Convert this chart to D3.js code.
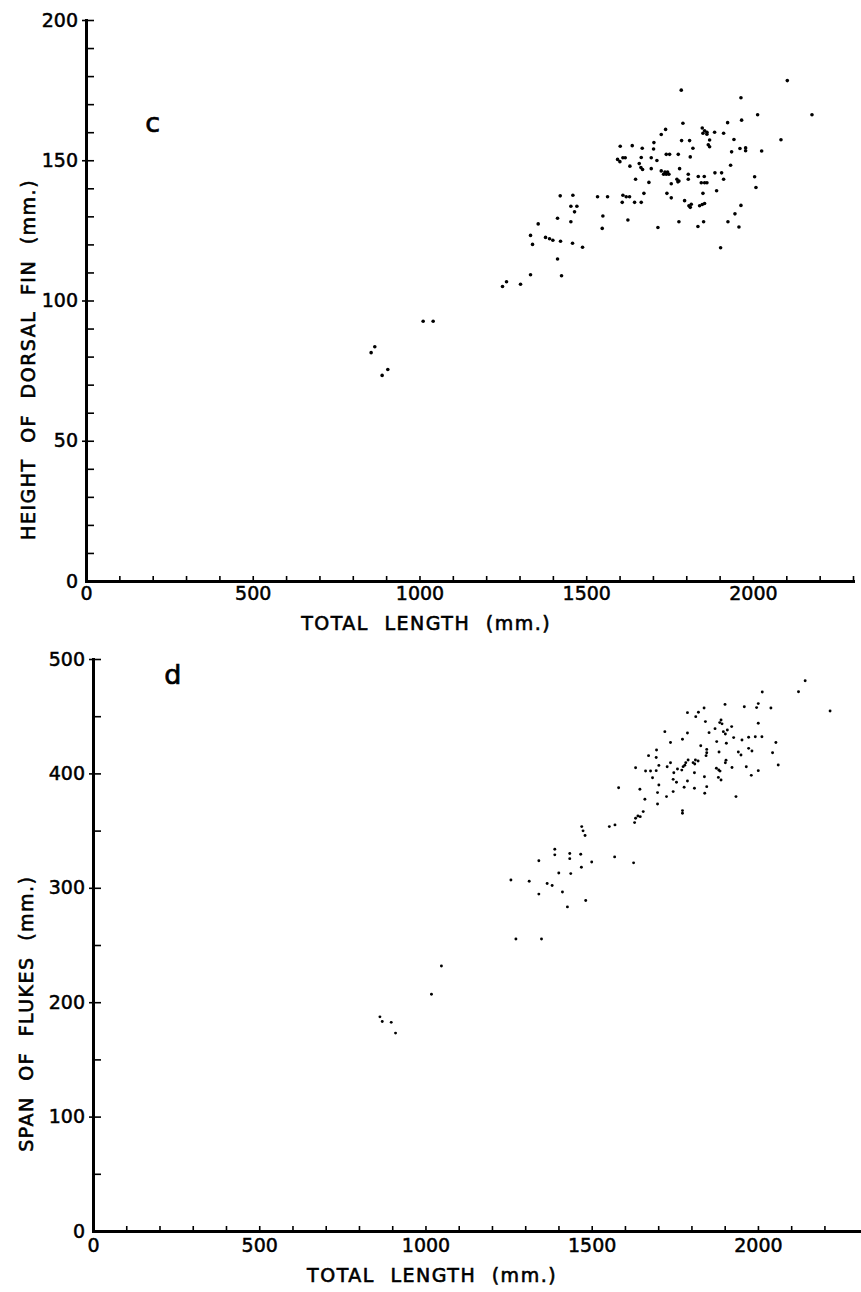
<!DOCTYPE html>
<html>
<head>
<meta charset="utf-8">
<script src="https://cdn.jsdelivr.net/npm/d3@7"></script>
<style>
  html, body { margin: 0; padding: 0; background: #fff; }
  svg { display: block; }
</style>
</head>
<body>
<div id="chart"></div>
<script>
// ---------------- DATA ----------------
// Panel c: [total length (mm), height of dorsal fin (mm)]
const dorsalPoints = [
  [1785,175.0],[1790,163.2],[1924,163.4],[1848,161.5],[1855,160.5],[1862,160],[1885,160],[1850,159.6],
  [1862,159.3],[1912,159.6],[1738,161],[1725,159.2],[1870,157.2],[1866,155.5],[1870,154.8],[1786,157],
  [1810,157],[1703,156.3],[1702,154],[1668,154.3],[1638,155.2],[1602,155],[1820,154.3],[1610,150.9],
  [1617,150.9],[1594,150.3],[1601,149.5],[1665,151],[1695,150.9],[1712,149.9],[1740,152.1],[1750,152.1],
  [1776,152.1],[1812,151.2],[1631,147.9],[1659,148.8],[1664,147.4],[1669,146.7],[1695,147],[1725,146.2],
  [1736,145.8],[1744,145.8],[1740,145],[1748,145],[1732,145],[1780,147],[1806,145],[1806,143.2],
  [1836,144.2],[1854,144.2],[1886,145.5],[1906,145.5],[1772,143.2],[1778,142.6],[1775,142.3],[1755,141.6],
  [1648,143.2],[1688,142.1],[1845,142],[1855,142],[1862,142],[1912,143.2],[1891,139.1],[1850,138.2],
  [1610,137.5],[1620,137],[1630,137],[1673,138.2],[1742,138.2],[1755,136.6],[1534,137],[1564,137],
  [1608,135],[1645,135],[1665,135],[1795,135.6],[1808,133.8],[1812,133.2],[1815,134.3],[1840,133.8],
  [1848,134.2],[1855,134.6],[1550,130.1],[1548,125.7],[1625,128.7],[1715,126],[1778,128.1],[1835,126.4],
  [1852,128.1],[1925,128.1],
  [2103,178.4],[1964,172.3],[2014,166.2],[2177,166.2],[1966,164.3],[1943,157.4],[2084,157.3],[1936,153],
  [1961,154.2],[1978,154.4],[1978,153.4],[2026,153.3],[1933,148.2],[2005,144.1],[2009,140.3],[1964,133.9],
  [1946,130.9],[1958,126.2],[1903,118.8],
  [1422,137.3],[1460,137.5],[1454,133.6],[1472,133.6],[1465,131.6],[1414,129.3],[1454,128.1],[1356,127.3],
  [1333,123.2],[1378,122.5],[1390,122],[1400,121.5],[1423,121.1],[1339,120],[1459,120.4],[1489,119],
  [1414,114.8],[1333,109.2],[1426,108.8],[1261,106.7],[1249,105],[1303,105.8],[1011,92.6],[1041,92.6],
  [866,83.5],[855,81.4],[905,75.4],[888,73.3]
];

// Panel d: [total length (mm), span of flukes (mm)]
const flukePoints = [
  [2142,481],[2122,471.4],[2013,471.1],[2217,454.5],[1901,460.3],[1959,458.3],[2001,461],[1996,457.5],
  [2039,457.2],[1838,457.2],[1821,453.4],[1788,453.1],[1813,449.6],[1889,446.7],[1885,444.4],[1892,443.3],
  [1842,445.3],[2001,443.8],[1720,436.5],[1788,435.3],[1853,435.6],[1871,439.1],[1896,436.5],[1902,434.5],
  [1908,438],[1921,440.9],[1773,429.8],[1737,427],[1876,427.8],[1905,426.3],[1927,431.3],[1952,429.2],
  [1972,431.6],[1992,432.1],[2012,432.1],[2054,427],[1828,424.2],[1846,421],[1846,418],[1844,415.5],
  [1695,420.5],[1883,418.7],[1941,418.7],[1949,416.1],[1972,421.9],[1982,419.6],[2044,418.1],[1671,415.5],
  [1694,413.9],[1702,407],[1737,409.3],[1727,405.8],[1758,403.8],
  [1775,405.9],[1783,409.4],[1790,411.7],[1805,409.4],[1812,411.7],[1820,410.8],[1810,408.2],[1780,407.1],
  [1771,402.9],[1632,404.9],[1662,402.1],[1677,402.1],[1694,402.4],[1747,400.6],[1809,400.6],[1839,397.1],
  [1875,404.5],[1882,403],[1886,402],[1904,411.6],[1902,409.3],[1922,405.2],[1965,405.8],[2001,402.4],
  [2061,407.4],[1980,398.3],[1881,396.5],[1889,394.2],[1683,396.2],[1745,394.8],[1755,392.2],[1788,393.3],
  [1702,389.9],[1778,387.9],[1809,387],[1846,388.4],[1645,386.1],[1698,383.2],[1745,384.1],[1725,379.7],
  [1840,382.6],[1934,379.7],[1660,377.4],[1698,373.3],[1773,367.5],[1773,365.2],[1655,366.6],[1639,362.8],
  [1632,360.8],[1629,357],[1646,362.2],
  [1581,387.5],[1470,353.5],[1474,349.8],[1480,345.7],[1553,353.5],[1570,355],[1569,327],[1626,321.8],
  [1389,333.7],[1389,328.8],[1434,330],[1434,325.5],[1467,329.3],[1500,322.5],[1341,323.6],[1401,313],
  [1437,312.4],[1469,318],[1366,303.8],[1257,306.8],[1312,305.7],[1381,302],[1412,296.3],[1341,294.5],
  [1427,283.3],[1482,288.9],[1272,255.2],[1349,255.2],[1048,231.7],[1018,207],[863,187.2],[870,183.1],
  [897,182.4],[910,173]
];

const xTicks = d3.range(0, 2301, 100);
const xLabels = [0, 500, 1000, 1500, 2000];
const dorsalTicks = d3.range(0, 201, 10);
const dorsalLabels = [0, 50, 100, 150, 200];
const flukeTicks = d3.range(0, 501, 50);
const flukeLabels = [0, 100, 200, 300, 400, 500];

const xTitle = "TOTAL LENGTH (mm.)";
const dorsalTitle = "HEIGHT OF DORSAL FIN (mm.)";
const flukeTitle = "SPAN OF FLUKES (mm.)";

// ---------------- DRAW ----------------
const W = 861, H = 1292;
const FONT = "'DejaVu Sans', sans-serif";
const svg = d3.select("#chart").append("svg")
  .attr("width", W).attr("height", H)
  .attr("viewBox", `0 0 ${W} ${H}`);

function heavy(sel, w) {
  return sel.attr("fill", "#000").attr("stroke", "#000").attr("stroke-width", w);
}

function panel(o) {
  const x = d3.scaleLinear().domain(o.xDomain).range(o.xRange);
  const y = d3.scaleLinear().domain(o.yDomain).range(o.yRange);
  const g = svg.append("g");

  // X axis (ticks pointing up into the plot)
  const xa = g.append("g")
    .attr("transform", `translate(0,${y(0)})`)
    .call(d3.axisBottom(x)
      .tickValues(o.xTicks.filter(v => v <= o.xDomain[1]))
      .tickSizeInner(-5).tickSizeOuter(0).tickPadding(o.xPad)
      .tickFormat(v => xLabels.includes(v) ? v : ""));
  // Y axis minor ticks (inward)
  const ya = g.append("g")
    .attr("transform", `translate(${x(0)},0)`)
    .call(d3.axisLeft(y)
      .tickValues(o.yTicks)
      .tickSizeInner(-8).tickSizeOuter(0).tickPadding(8)
      .tickFormat(v => o.yLabels.includes(v) ? v : ""));
  // Major ticks crossing the axis to the left
  const yb = g.append("g")
    .attr("transform", `translate(${x(0)},0)`)
    .call(d3.axisLeft(y)
      .tickValues(o.yLabels.filter(v => v > 0))
      .tickSizeInner(4).tickSizeOuter(0)
      .tickFormat(""));
  yb.select(".domain").remove();

  [xa, ya, yb].forEach(a => {
    a.selectAll(".domain").attr("stroke", "#000").attr("stroke-width", 3).attr("stroke-linecap", "square");
    a.selectAll(".tick line").attr("stroke", "#000").attr("stroke-width", 1.6);
    heavy(a.selectAll(".tick text"), 0.5)
      .style("font-family", FONT)
      .style("font-size", "19px");
  });

  // points
  g.append("g").selectAll("circle")
    .data(o.points)
    .join("circle")
    .attr("cx", d => x(d[0]))
    .attr("cy", d => y(d[1]))
    .attr("r", o.r)
    .attr("fill", "#000");

  // panel letter
  heavy(g.append("text"), 0.7)
    .attr("x", x(o.letterAt[0])).attr("y", y(o.letterAt[1]))
    .attr("text-anchor", "middle")
    .style("font-family", FONT).style("font-size", "27px")
    .text(o.letter);

  // axis titles
  heavy(g.append("text"), 0.6)
    .attr("x", x(o.xTitleAt)).attr("y", y(0) + o.xTitleDy)
    .attr("text-anchor", "middle")
    .style("font-family", FONT).style("font-size", "19px")
    .style("letter-spacing", "1.5px").style("word-spacing", "8px")
    .text(xTitle);
  heavy(g.append("text"), 0.6)
    .attr("transform", `translate(${o.yTitleX},${y(o.yTitleAt)}) rotate(-90)`)
    .attr("text-anchor", "middle")
    .style("font-family", FONT).style("font-size", "19px")
    .style("letter-spacing", "1.5px").style("word-spacing", "8px")
    .text(o.yTitle);
}

panel({
  points: dorsalPoints,
  xDomain: [0, 2300], xRange: [86, 853],
  yDomain: [0, 200], yRange: [581, 20],
  xTicks: xTicks, yTicks: dorsalTicks, yLabels: dorsalLabels,
  xPad: 6, r: 1.8,
  letter: "c", letterAt: [200, 160],
  xTitleAt: 1020, xTitleDy: 49,
  yTitle: dorsalTitle, yTitleX: 35, yTitleAt: 79
});

panel({
  points: flukePoints,
  xDomain: [0, 2310], xRange: [93, 861],
  yDomain: [0, 500], yRange: [1231, 659],
  xTicks: xTicks.filter(v => v <= 2200), yTicks: flukeTicks, yLabels: flukeLabels,
  xPad: 8, r: 1.45,
  letter: "d", letterAt: [240, 478],
  xTitleAt: 1020, xTitleDy: 51,
  yTitle: flukeTitle, yTitleX: 33, yTitleAt: 190
});
</script>
</body>
</html>
